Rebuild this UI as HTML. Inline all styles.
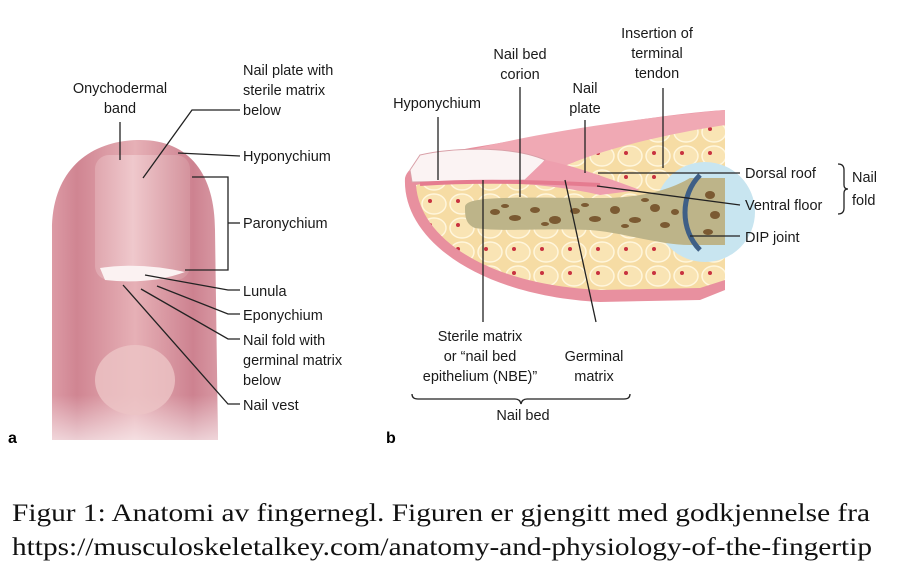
<!DOCTYPE html>
<html><head><meta charset="utf-8"><style>
html,body{margin:0;padding:0;background:#fff}
svg{display:block}
.l{font-family:"Liberation Sans",sans-serif;font-size:14.5px;fill:#1a1a1a}
.c{font-family:"Liberation Serif",serif;font-size:25px;fill:#111}
line,polyline,path.ln{stroke:#222;stroke-width:1.3;fill:none}
</style></head><body>
<svg width="898" height="580" viewBox="0 0 898 580" xmlns="http://www.w3.org/2000/svg">
<defs>
<linearGradient id="fg" x1="0" x2="1" y1="0" y2="0">
<stop offset="0" stop-color="#dc9aa5"/><stop offset="0.15" stop-color="#d08592"/><stop offset="0.5" stop-color="#e6b0b6"/><stop offset="0.85" stop-color="#cd8290"/><stop offset="1" stop-color="#d898a3"/></linearGradient>
<linearGradient id="fv" x1="0" x2="0" y1="0" y2="1"><stop offset="0.85" stop-color="#fff" stop-opacity="0"/><stop offset="1" stop-color="#fff" stop-opacity="0.6"/></linearGradient>
<linearGradient id="ng" x1="0" x2="1"><stop offset="0" stop-color="#dfa6ae"/><stop offset="0.4" stop-color="#efc8cc"/><stop offset="1" stop-color="#d4939d"/></linearGradient>
<pattern id="fat" width="28" height="24" patternUnits="userSpaceOnUse">
<rect width="28" height="24" fill="#f6dca4"/>
<ellipse cx="14" cy="12" rx="12" ry="10" fill="#f9e4b4" stroke="#fff6dc" stroke-width="1.5"/>
<circle cx="10" cy="9" r="2" fill="#c8323f"/></pattern>
</defs>
<!-- panel a finger -->
<path d="M52,440 L52,230 C52,170 90,140 140,140 C190,140 215,175 215,230 L218,440 Z" fill="url(#fg)"/>
<path d="M52,440 L52,230 C52,170 90,140 140,140 C190,140 215,175 215,230 L218,440 Z" fill="url(#fv)"/>
<rect x="95" y="155" width="95" height="125" rx="14" fill="url(#ng)"/>
<path d="M100,268 Q140,262 185,272 Q150,285 105,280 Z" fill="#fbf2f2"/>
<ellipse cx="135" cy="380" rx="40" ry="35" fill="#ecc4c6" opacity="0.8"/>
<text class="l" x="120" y="93" text-anchor="middle">Onychodermal</text>
<text class="l" x="120" y="113" text-anchor="middle">band</text>
<line x1="120" y1="122" x2="120" y2="160"/>
<text class="l" x="243" y="75">Nail plate with</text>
<text class="l" x="243" y="95">sterile matrix</text>
<text class="l" x="243" y="115">below</text>
<polyline points="143,178 192,110 240,110"/>
<text class="l" x="243" y="161">Hyponychium</text>
<polyline points="178,153 240,156"/>
<polyline points="192,177 228,177 228,270 185,270"/>
<line x1="228" y1="223" x2="240" y2="223"/>
<text class="l" x="243" y="228">Paronychium</text>
<polyline points="145,275 228,290 240,290"/>
<text class="l" x="243" y="296">Lunula</text>
<polyline points="157,286 228,314 240,314"/>
<text class="l" x="243" y="320">Eponychium</text>
<polyline points="141,289 228,339 240,339"/>
<text class="l" x="243" y="345">Nail fold with</text>
<text class="l" x="243" y="365">germinal matrix</text>
<text class="l" x="243" y="385">below</text>
<polyline points="123,285 228,404 240,404"/>
<text class="l" x="243" y="410">Nail vest</text>
<text x="8" y="443" style="font:bold 16px 'Liberation Sans',sans-serif">a</text>

<!-- panel b -->
<path d="M405,178 C402,240 480,296 600,302 L700,300 L725,290 L725,110 C650,115 560,133 470,148 C430,155 408,165 405,178 Z" fill="#e8909f"/>
<path d="M416,185 C420,240 490,285 600,290 L700,288 L725,280 L725,125 C660,130 600,150 560,168 C500,178 440,180 416,185 Z" fill="url(#fat)"/>
<path d="M470,150 C540,132 640,118 725,110 L725,125 C660,135 600,150 560,168 Z" fill="#f0a9b4"/>
<path d="M410,170 L420,155 C450,148 510,145 545,160 L530,180 L412,182 Z" fill="#fbf3f3" stroke="#d9a0a8"/>
<path d="M545,160 C570,165 600,175 640,190 L600,195 C570,188 540,185 520,184 Z" fill="#ee9fae"/>
<path d="M420,184 C480,180 540,182 600,185" stroke="#e57c90" stroke-width="4" fill="none"/>
<circle cx="705" cy="212" r="50" fill="#c8e5f0"/>
<path d="M465,207 C465,195 520,198 600,198 C640,198 670,190 690,178 L725,178 L725,245 L690,245 C660,245 620,232 590,230 C540,228 500,232 475,228 C465,224 465,215 465,207 Z" fill="#bdb489"/>
<g fill="#7b5a32">
<ellipse cx="495" cy="212" rx="5" ry="3"/><ellipse cx="515" cy="218" rx="6" ry="3"/><ellipse cx="535" cy="210" rx="5" ry="3"/><ellipse cx="555" cy="220" rx="6" ry="4"/><ellipse cx="575" cy="211" rx="5" ry="3"/><ellipse cx="595" cy="219" rx="6" ry="3"/><ellipse cx="615" cy="210" rx="5" ry="4"/><ellipse cx="635" cy="220" rx="6" ry="3"/><ellipse cx="655" cy="208" rx="5" ry="4"/><ellipse cx="665" cy="225" rx="5" ry="3"/><ellipse cx="710" cy="195" rx="5" ry="4"/><ellipse cx="715" cy="215" rx="5" ry="4"/><ellipse cx="708" cy="232" rx="5" ry="3"/>
<ellipse cx="505" cy="206" rx="4" ry="2"/><ellipse cx="545" cy="224" rx="4" ry="2"/><ellipse cx="585" cy="205" rx="4" ry="2"/><ellipse cx="625" cy="226" rx="4" ry="2"/><ellipse cx="645" cy="200" rx="4" ry="2"/><ellipse cx="675" cy="212" rx="4" ry="3"/></g>
<path d="M700,175 C680,195 680,230 700,250" stroke="#3f5f86" stroke-width="5" fill="none"/>
<text class="l" x="437" y="108" text-anchor="middle">Hyponychium</text>
<line x1="438" y1="117" x2="438" y2="180"/>
<text class="l" x="520" y="59" text-anchor="middle">Nail bed</text>
<text class="l" x="520" y="79" text-anchor="middle">corion</text>
<line x1="520" y1="87" x2="520" y2="197"/>
<text class="l" x="585" y="93" text-anchor="middle">Nail</text>
<text class="l" x="585" y="113" text-anchor="middle">plate</text>
<line x1="585" y1="120" x2="585" y2="173"/>
<text class="l" x="657" y="38" text-anchor="middle">Insertion of</text>
<text class="l" x="657" y="58" text-anchor="middle">terminal</text>
<text class="l" x="657" y="78" text-anchor="middle">tendon</text>
<line x1="663" y1="88" x2="663" y2="168"/>
<line x1="598" y1="173" x2="740" y2="173"/>
<text class="l" x="745" y="178">Dorsal roof</text>
<line x1="597" y1="186" x2="740" y2="205"/>
<text class="l" x="745" y="210">Ventral floor</text>
<line x1="690" y1="236" x2="740" y2="236"/>
<text class="l" x="745" y="242">DIP joint</text>
<path class="ln" d="M838,164 Q844,164 844,170 L844,185 Q844,189 848,189 Q844,189 844,193 L844,208 Q844,214 838,214"/>
<text class="l" x="852" y="182">Nail</text>
<text class="l" x="852" y="205">fold</text>
<line x1="483" y1="180" x2="483" y2="322"/>
<line x1="565" y1="180" x2="596" y2="322"/>
<text class="l" x="480" y="341" text-anchor="middle">Sterile matrix</text>
<text class="l" x="480" y="361" text-anchor="middle">or “nail bed</text>
<text class="l" x="480" y="381" text-anchor="middle">epithelium (NBE)”</text>
<text class="l" x="594" y="361" text-anchor="middle">Germinal</text>
<text class="l" x="594" y="381" text-anchor="middle">matrix</text>
<path class="ln" d="M412,394 Q412,399 418,399 L515,399 Q520,399 521,404 Q522,399 527,399 L624,399 Q630,399 630,394"/>
<text class="l" x="523" y="420" text-anchor="middle">Nail bed</text>
<text x="386" y="443" style="font:bold 16px 'Liberation Sans',sans-serif">b</text>

<text class="c" x="12" y="521" textLength="858" lengthAdjust="spacingAndGlyphs">Figur 1: Anatomi av fingernegl. Figuren er gjengitt med godkjennelse fra</text>
<text class="c" x="12" y="555" textLength="860" lengthAdjust="spacingAndGlyphs">https://musculoskeletalkey.com/anatomy-and-physiology-of-the-fingertip</text>
</svg>
</body></html>
